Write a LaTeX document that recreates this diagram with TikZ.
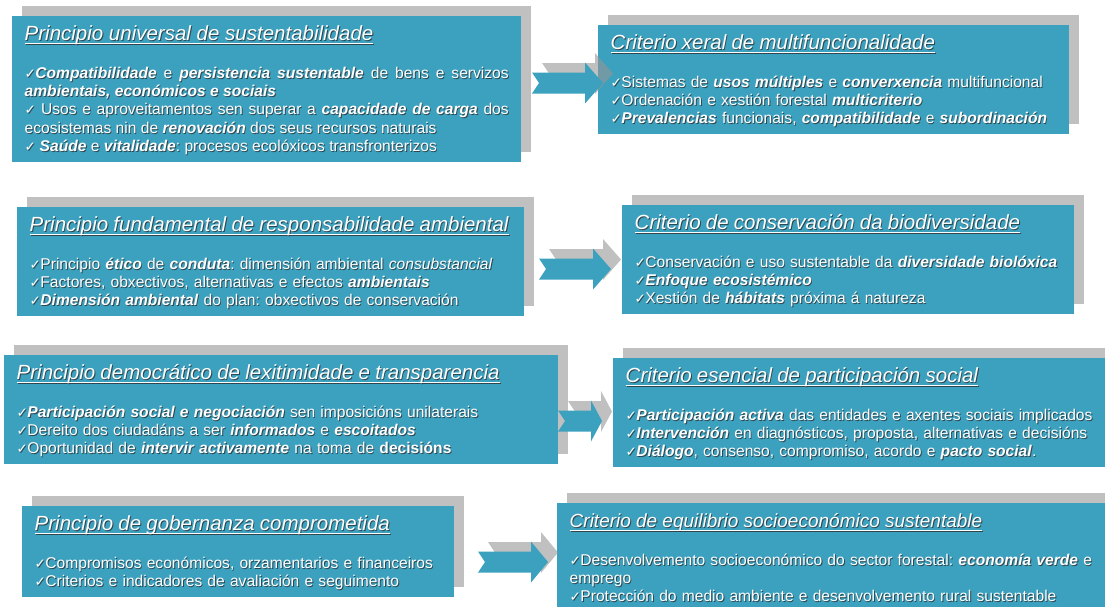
\documentclass[tikz,border=0pt]{standalone}
\usepackage{fontspec}
\setmainfont{Liberation Sans}
\newfontfamily\checkfont{DejaVu Sans}
\usetikzlibrary{shadows}
\definecolor{panelteal}{RGB}{59,161,191}
\definecolor{panelshade}{RGB}{192,192,192}
\definecolor{arrowshade}{RGB}{150,150,150}
\definecolor{textshade}{RGB}{45,55,60}
\setlength{\parindent}{0pt}
\frenchspacing
\hyphenpenalty=10000
\newsavebox{\titlebox}
\newcommand{\chk}{{\checkfont\fontsize{13.5}{18.4}\selectfont ✓}\kern-0.6pt}
\newcommand{\bi}[1]{\textbf{\textit{#1}}}
\newcommand{\heading}[2][20.5]{{\fontsize{#1}{24}\selectfont\itshape\rule{0pt}{24pt}%
  \sbox{\titlebox}{#2}\usebox{\titlebox}\llap{\rule[-3.8pt]{\wd\titlebox}{1.2pt}}\par}\vskip19.5pt}
% box, shaded text, white text
\newcommand{\panelbox}[4]{%
  \node[panel, fill=panelteal, general shadow={fill=panelshade, shadow xshift=9.5pt, shadow yshift=10pt},
    text opacity=0, #2] (#1) at (#3) {#4};
  \node[panel, text=textshade, text opacity=0.85, #2] (#1-shade) at ([xshift=0.9pt, yshift=-0.9pt]#1.north west) {#4};
  \node[panel, #2] (#1-text) at (#1.north west) {#4};}

\begin{document}
\begin{tikzpicture}[x=1pt, y=1pt,
  panel/.style={anchor=north west, text=white, inner xsep=12.5pt, inner ysep=0pt,
    font={\fontsize{15.6}{18.4}\selectfont}, align=left,
    execute at end node={\rule[-10.5pt]{0pt}{10.5pt}}},
  pics/chevron/.style args={#1/#2}{code={
    \fill[arrowshade, opacity=0.6, xshift=10pt, yshift=9.5pt] (0,10.5) -- ({#1-#2},10.5) -- ({#1-#2},20.5) -- (#1,0)
      -- ({#1-#2},-20.5) -- ({#1-#2},-10.5) -- (0,-10.5) -- (7,0) -- cycle;
    \fill[panelteal] (0,10.5) -- ({#1-#2},10.5) -- ({#1-#2},20.5) -- (#1,0)
      -- ({#1-#2},-20.5) -- ({#1-#2},-10.5) -- (0,-10.5) -- (7,0) -- cycle;
  }}]
  \clip (0,0) rectangle (1105,-606);

  % principios (left column)
  \panelbox{univ}{text width=484pt, align=justify}{12,-16}{\heading{Principio universal de sustentabilidade}
    \chk\bi{Compatibilidade} e \bi{persistencia sustentable} de bens e servizos\linebreak
    \bi{ambientais, económicos e sociais}\par
    \chk\ Usos e aproveitamentos sen superar a \bi{capacidade de carga} dos\linebreak
    ecosistemas nin de \bi{renovación} dos seus recursos naturais\par
    \chk\ \bi{Saúde} e \bi{vitalidade}: procesos ecolóxicos transfronterizos}
  \panelbox{resp}{text width=482pt}{17,-207}{\heading{Principio fundamental de responsabilidade ambiental}
    \chk Principio \bi{ético} de \bi{conduta}: dimensión ambiental \textit{consubstancial}\par
    \chk Factores, obxectivos, alternativas e efectos \bi{ambientais}\par
    \chk\bi{Dimensión ambiental} do plan: obxectivos de conservación}
  \panelbox{demo}{text width=529pt}{4,-355}{\heading{Principio democrático de lexitimidade e transparencia}
    \chk\bi{Participación social e negociación} sen imposicións unilaterais\par
    \chk Dereito dos ciudadáns a ser \bi{informados} e \bi{escoitados}\par
    \chk Oportunidad de \bi{intervir activamente} na toma de \textbf{decisións}}
  \panelbox{gober}{text width=407pt}{22,-506}{\heading{Principio de gobernanza comprometida}
    \chk Compromisos económicos, orzamentarios e financeiros\par
    \chk Criterios e indicadores de avaliación e seguimento}

  % criterios (right column)
  \panelbox{multi}{text width=446pt}{598,-25}{\heading{Criterio xeral de multifuncionalidade}
    \chk Sistemas de \bi{usos múltiples} e \bi{converxencia} multifuncional\par
    \chk Ordenación e xestión forestal \bi{multicriterio}\par
    \chk\bi{Prevalencias} funcionais, \bi{compatibilidade} e \bi{subordinación}}
  \panelbox{biodiv}{text width=427pt}{622,-205}{\heading{Criterio de conservación da biodiversidade}
    \chk Conservación e uso sustentable da \bi{diversidade biolóxica}\par
    \chk\bi{Enfoque ecosistémico}\par
    \chk Xestión de \bi{hábitats} próxima á natureza}
  \panelbox{partic}{text width=480pt}{613,-358}{\heading{Criterio esencial de participación social}
    \chk\bi{Participación activa} das entidades e axentes sociais implicados\par
    \chk\bi{Intervención} en diagnósticos, proposta, alternativas e decisións\par
    \chk\bi{Diálogo}, consenso, compromiso, acordo e \bi{pacto social}.}
  \panelbox{equil}{text width=540pt}{557,-503}{\heading[19]{Criterio de equilibrio socioeconómico sustentable}
    \chk Desenvolvemento socioeconómico do sector forestal: \bi{economía verde} e\linebreak
    emprego\par
    \chk Protección do medio ambiente e desenvolvemento rural sustentable\par
    \vphantom{X}}

  % chevrons between principio and criterio
  \coordinate (a1) at (532,-83);
  \coordinate (a2) at (539,-269);
  \coordinate (a3) at (558,-421);
  \coordinate (a4) at (478,-562);
  \pic at (a1) {chevron=71/18};
  \pic at (a2) {chevron=72/18};
  \pic at (a3) {chevron=44/11};
  \pic at (a4) {chevron=70/17};
\end{tikzpicture}
\end{document}
